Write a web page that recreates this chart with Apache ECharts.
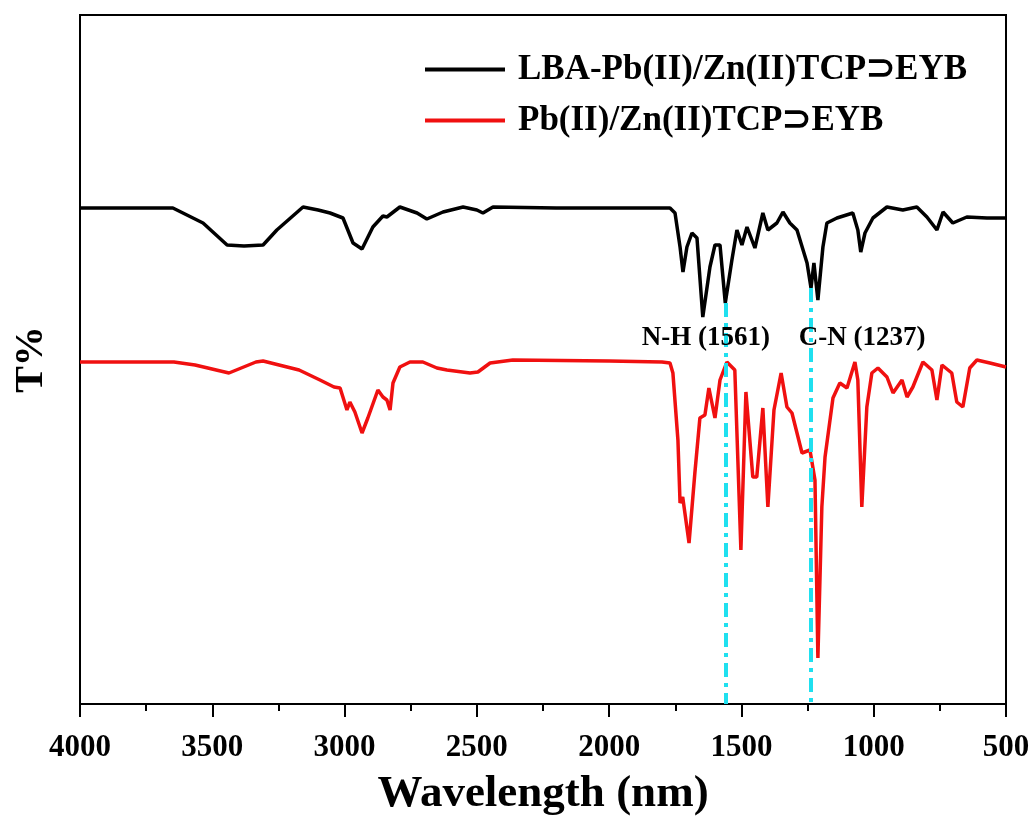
<!DOCTYPE html>
<html>
<head>
<meta charset="utf-8">
<script src="https://cdn.jsdelivr.net/npm/echarts@6/dist/echarts.min.js"></script>
<style>html,body{margin:0;padding:0;background:#fff;}#c{width:1033px;height:816px;}</style>
</head>
<body>
<div id="c"></div>
<script>
// wavenumber (x) and T% (arbitrary, y)
const blackX = [4000,3850,3649,3535,3444,3380,3308,3256,3157,3100,3055,3006,2968,2934,2893,2855,2840,2791,2726,2689,2628,2552,2500,2477,2439,2200,2000,1800,1770,1751,1732,1721,1706,1687,1668,1646,1619,1600,1581,1561,1536,1517,1498,1479,1449,1419,1400,1366,1343,1317,1290,1252,1237,1226,1211,1192,1177,1139,1079,1060,1049,1033,1003,950,890,837,799,761,738,701,648,572,500];
const blackY = [49.6,49.6,49.6,48.1,45.9,45.8,45.9,47.4,49.7,49.4,49.1,48.6,46.1,45.5,47.7,48.8,48.7,49.7,49.1,48.5,49.2,49.7,49.4,49.1,49.7,49.6,49.6,49.6,49.6,49.1,45.7,43.2,45.7,47.1,46.6,38.7,43.7,45.9,45.9,40.1,44.4,47.4,45.9,47.7,45.6,49.1,47.4,48.1,49.2,48.1,47.4,44.1,41.6,44.1,40.4,45.7,48.1,48.6,49.1,47.4,45.2,47.1,48.6,49.7,49.4,49.7,48.7,47.4,49.2,48.1,48.7,48.6,48.6];
const redX = [4000,3645,3565,3437,3335,3308,3172,3093,3040,3017,2991,2980,2961,2934,2912,2874,2855,2840,2828,2817,2791,2753,2704,2651,2613,2526,2496,2450,2364,2000,1800,1770,1759,1740,1732,1722,1698,1676,1657,1638,1623,1600,1581,1555,1525,1502,1483,1457,1442,1419,1400,1377,1350,1328,1309,1271,1241,1222,1211,1196,1184,1154,1128,1101,1071,1060,1045,1026,1007,984,950,927,893,874,852,814,780,761,742,705,686,663,637,610,561,500];
const redY = [34.2,34.2,33.9,33.1,34.2,34.3,33.4,32.4,31.7,31.6,29.4,30.2,29.2,27.1,28.6,31.4,30.7,30.4,29.4,32.1,33.7,34.2,34.2,33.6,33.4,33.1,33.2,34.1,34.4,34.3,34.2,34.1,33.1,26.4,20.1,20.7,16.1,23.1,28.6,28.9,31.6,28.6,32.4,34.2,33.4,15.4,31.2,22.7,22.7,29.6,19.7,29.4,33.1,29.7,29.1,25.1,25.4,22.4,4.6,19.7,24.7,30.6,32.1,31.6,34.2,32.4,19.7,29.7,33.1,33.6,32.7,31.1,32.4,30.7,31.7,34.2,33.4,30.4,33.9,33.1,30.2,29.7,33.6,34.4,34.1,33.7];
const seriesNames = ['LBA-Pb(II)/Zn(II)TCP\u2283EYB','Pb(II)/Zn(II)TCP\u2283EYB'];
const xTicks = [4000,3500,3000,2500,2000,1500,1000,500];
const peakPos = [1561,1237];
const peakTop = [40.1,41.6];
const peakLabels = ['N-H (1561)','C-N (1237)'];
const labelAnchorX = [1634,1044];   // text centre positions (wavenumber)
const labelAnchorY = 36.6;          // text centre (T%)

const zip = (xs, ys) => xs.map((x, i) => [x, ys[i]]);
const FONT = '"Liberation Serif","Times New Roman",serif';

const chart = echarts.init(document.getElementById('c'));
chart.setOption({
  animation: false,
  backgroundColor: '#fff',
  grid: {left: 80, right: 27, top: 15, bottom: 112, show: true, borderColor: '#000', borderWidth: 2,
    containLabel: false, outerBoundsMode: 'none'},
  legend: {
    orient: 'vertical', left: 420, top: 47, itemWidth: 80, itemHeight: 4, itemGap: 16,
    icon: 'rect',
    textStyle: {fontFamily: FONT, fontWeight: 'bold', fontSize: 35, color: '#000', padding: [0,0,0,8]},
    data: seriesNames
  },
  xAxis: {
    type: 'value', min: 500, max: 4000, interval: 500, inverse: true,
    axisLine: {show: true, onZero: false, lineStyle: {color: '#000', width: 2}},
    axisTick: {show: true, length: 13, lineStyle: {color: '#000', width: 2}},
    minorTick: {show: true, splitNumber: 2, length: 7, lineStyle: {color: '#000', width: 2}},
    splitLine: {show: false},
    axisLabel: {margin: 28, fontFamily: FONT, fontWeight: 'bold', fontSize: 31, color: '#000',
      formatter: v => xTicks.includes(v) ? String(v) : ''},
    name: 'Wavelength (nm)', nameLocation: 'middle', nameGap: 68,
    nameTextStyle: {fontFamily: FONT, fontWeight: 'bold', fontSize: 45, color: '#000'}
  },
  yAxis: {
    type: 'value', min: 0, max: 68.9,
    axisLine: {show: true, lineStyle: {color: '#000', width: 2}},
    axisTick: {show: false}, axisLabel: {show: false}, splitLine: {show: false},
    name: 'T%', nameLocation: 'middle', nameGap: 28, nameRotate: 90,
    nameTextStyle: {fontFamily: FONT, fontWeight: 'bold', fontSize: 40, color: '#000'}
  },
  series: [
    {
      name: seriesNames[0], type: 'line', data: zip(blackX, blackY), symbol: 'none',
      lineStyle: {color: '#000', width: 3.5}, itemStyle: {color: '#000'}, z: 3
    },
    {
      name: seriesNames[1], type: 'line', data: zip(redX, redY), symbol: 'none',
      lineStyle: {color: '#f01010', width: 3.5}, itemStyle: {color: '#f01010'}, z: 3,
      markLine: {
        silent: true, symbol: 'none', label: {show: false},
        lineStyle: {color: '#1fe0ef', width: 4, type: [14, 6, 4, 6]},
        data: peakPos.map((p, i) => [{coord: [p, peakTop[i]]}, {coord: [p, 0]}])
      }
    }
  ]
});
const texts = peakLabels.map((t, i) => {
  const pt = chart.convertToPixel({gridIndex: 0}, [labelAnchorX[i], labelAnchorY]);
  return {type: 'text', x: pt[0], y: pt[1], z: 10,
    style: {text: t, fill: '#000', font: 'bold 27px ' + FONT, textAlign: 'center', textVerticalAlign: 'middle'}};
});
chart.setOption({graphic: texts});
</script>
</body>
</html>
